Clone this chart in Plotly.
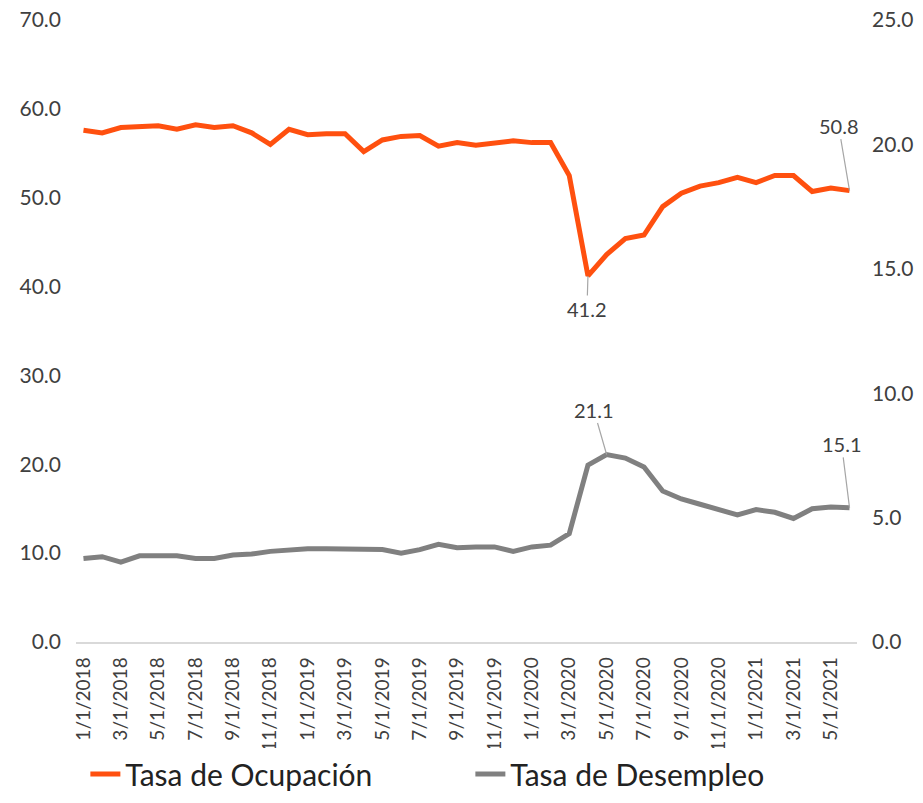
import plotly.graph_objects as go

# monthly series, Jan 2018 - Jun 2021
months = [f"{m}/1/{y}" for y in (2018, 2019, 2020, 2021) for m in range(1, 13)][:42]

ocupacion = [
    57.6, 57.3, 57.9, 58.0, 58.1, 57.7, 58.2, 57.9, 58.1, 57.3, 56.0, 57.7,
    57.1, 57.2, 57.2, 55.2, 56.5, 56.9, 57.0, 55.8, 56.2, 55.9, 56.2, 56.4,
    56.2, 56.2, 52.5, 41.2, 43.6, 45.4, 45.8, 49.0, 50.5, 51.3, 51.7, 52.3,
    51.7, 52.5, 52.5, 50.7, 51.1, 50.8,
]
desempleo = [
    9.4, 9.6, 9.0, 9.7, 9.7, 9.7, 9.4, 9.4, 9.8, 9.9, 10.2, 10.4,
    10.5, 10.5, 10.5, 10.5, 10.4, 10.0, 10.4, 11.0, 10.6, 10.7, 10.7, 10.2,
    10.7, 10.9, 12.2, 19.9, 21.1, 20.7, 19.7, 17.0, 16.1, 15.5, 14.9, 14.3,
    14.9, 14.6, 13.9, 15.0, 15.2, 15.1,
]
tick_labels = months[::2]

ORANGE = "#FF500F"
GRAY = "#808080"
FONT = "Lato"
TEXT = "#404040"

# small top margin keeps plotly's auto-margin pad tiny; the axis ranges get a bit
# of headroom instead so 70 / 25 still sit where the reference has them
HEAD = 632 / 622

fig = go.Figure()
fig.add_trace(go.Scatter(x=months, y=ocupacion, mode="lines", name="Tasa de Ocupación",
                         line=dict(color=ORANGE, width=5)))
fig.add_trace(go.Scatter(x=months, y=desempleo, mode="lines", name="Tasa de Desempleo",
                         line=dict(color=GRAY, width=5)))
# empty trace so the secondary (right) axis gets drawn
fig.add_trace(go.Scatter(x=[], y=[], yaxis="y2", showlegend=False, hoverinfo="skip"))

# labelled points
for idx, series, ax, ay in [(27, ocupacion, -1, 33), (41, ocupacion, -11, -65),
                            (28, desempleo, -13, -45), (41, desempleo, -8, -64)]:
    fig.add_annotation(x=months[idx], y=series[idx], text=f"{series[idx]:.1f}",
                       showarrow=True, arrowhead=0, arrowwidth=1.2, arrowcolor="#A6A6A6",
                       ax=ax, ay=ay, font=dict(family=FONT, size=20, color=TEXT))

# the page body keeps an 8px margin, so the figure is 8px smaller than the window
fig.update_layout(
    width=915, height=795,
    margin=dict(l=68, r=66, t=2, b=161),
    plot_bgcolor="white", paper_bgcolor="white",
    font=dict(family=FONT, color=TEXT),
    showlegend=True,
    legend=dict(orientation="h", x=0.012, xanchor="left", y=-0.25, yanchor="bottom",
                font=dict(size=30, color="#222222"),
                entrywidth=340, entrywidthmode="pixels"),
    xaxis=dict(type="category", range=[-0.4, 41.4], tickmode="array",
               tickvals=tick_labels, ticktext=tick_labels, tickangle=-90,
               tickfont=dict(size=19), showgrid=False, showline=True,
               linecolor="#D9D9D9", linewidth=1.5, ticks="", ticklabelstandoff=6,
               automargin=False),
    yaxis=dict(range=[0, 70 * HEAD], tickvals=list(range(0, 71, 10)), tickformat=".1f",
               showgrid=False, zeroline=False, tickfont=dict(size=21),
               ticklabelstandoff=14, ticklabeloverflow="allow", automargin=False),
    yaxis2=dict(range=[0, 25 * HEAD], tickvals=list(range(0, 26, 5)), tickformat=".1f",
                overlaying="y", side="right", showgrid=False, zeroline=False,
                tickfont=dict(size=21), ticklabelstandoff=14,
                ticklabeloverflow="allow", automargin=False),
)

fig.write_html("out.html")
